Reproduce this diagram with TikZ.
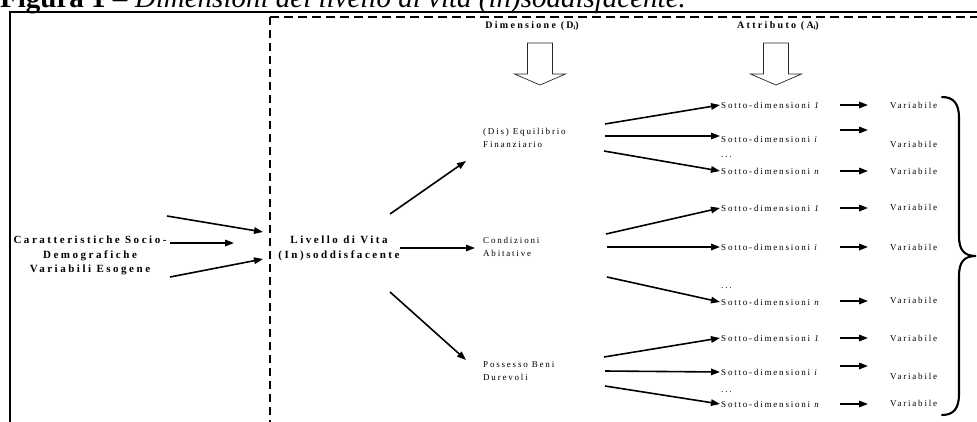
\documentclass[tikz,border=0pt]{standalone}
\usepackage{fontspec}
\setmainfont{Liberation Serif}
\newfontfamily\lsf[LetterSpace=20]{Liberation Serif}
\newfontfamily\lsb[LetterSpace=23]{Liberation Serif}
\usetikzlibrary{arrows.meta}
\begin{document}
\begin{tikzpicture}[x=1pt,y=-1pt,
  arr/.style={line width=1.6pt,-{Triangle[length=9pt,width=6.5pt]}},
  blockarr/.style={line width=0.7pt,draw=black!85,fill=white,line join=miter},
  small/.style={font=\lsf\fontsize{9}{13}\selectfont,inner sep=1pt,anchor=west},
  dimlbl/.style={font=\lsf\fontsize{9}{13.5}\selectfont,inner sep=0pt,anchor=west,align=left},
  boldlbl/.style={font=\lsb\bfseries\fontsize{11}{14.5}\selectfont,inner sep=0pt,align=center},
  headlbl/.style={font=\lsb\bfseries\fontsize{10}{12}\selectfont,inner sep=0pt}]
\useasboundingbox (0,0) rectangle (977,421);
% title (partly cut off at top)
\node[anchor=base west,inner sep=0pt,font=\fontsize{29}{30}\selectfont] (title) at (0,7)
  {\textbf{Figura 1 –} \textit{Dimensioni del livello di vita (in)soddisfacente.}};
% frames
\draw[line width=1.5pt] (10,430) -- (10,12) -- (990,12);
\draw[line width=1.4pt,dash pattern=on 9pt off 5pt] (270,17) -- (990,17);
\draw[line width=2.4pt,dash pattern=on 8pt off 5pt] (270,17) -- (270,430);
% headings
\node[headlbl] (hdim) at (532,26) {Dimensione (D{\fontsize{6}{6}\selectfont\raisebox{-1.5pt}{i}})};
\node[headlbl] (hatt) at (778,26) {Attributo (A{\fontsize{6}{6}\selectfont\raisebox{-1.5pt}{i}})};
% block arrows
\foreach \cx in {540,776}{
  \draw[blockarr] (\cx-12.5,43) -- (\cx+12.5,43) -- (\cx+12.5,74) -- (\cx+25.5,74)
     -- (\cx,85) -- (\cx-25.5,74) -- (\cx-12.5,74) -- cycle;
}
% left texts
\node[boldlbl] (car) at (90,255.5) {Caratteristiche Socio-\\Demografiche\\Variabili Esogene};
\node[boldlbl] (liv) at (339,248.5) {Livello di Vita\\(In)soddisfacente};
\coordinate (c1) at (167,216); \coordinate (c1e) at (263,232);
\coordinate (c2) at (170,243); \coordinate (c2e) at (234,243);
\coordinate (c3) at (170,277); \coordinate (c3e) at (263,259);
\draw[arr] (c1) -- (c1e);
\draw[arr] (c2) -- (c2e);
\draw[arr] (c3) -- (c3e);
% dimensions
\node[dimlbl] (dimF) at (483,138) {(Dis) Equilibrio\\Finanziario};
\node[dimlbl] (dimA) at (483,247) {Condizioni\\Abitative};
\node[dimlbl] (dimB) at (483,371) {Possesso Beni\\Durevoli};
\coordinate (l1) at (390,214); \coordinate (l1e) at (466,161);
\coordinate (l2) at (400,248); \coordinate (l2e) at (475,248);
\coordinate (l3) at (390,292); \coordinate (l3e) at (466,360);
\draw[arr] (l1) -- (l1e);
\draw[arr] (l2) -- (l2e);
\draw[arr] (l3) -- (l3e);
% sotto-dimensioni nodes
\foreach \g/\ya/\yb/\yd/\yc in {1/105/139/157/171, 2/208/247/288/302, 3/338/372/392/404}{
  \node[small] (s\g a) at (720,\ya) {Sotto-dimensioni \textit{1}};
  \node[small] (s\g b) at (720,\yb) {Sotto-dimensioni \textit{i}};
  \node[small] (s\g d) at (720,\yd) {...};
  \node[small] (s\g c) at (720,\yc) {Sotto-dimensioni \textit{n}};
}
% dimension -> sotto arrows
\coordinate (f1) at (605,124); \coordinate (f2) at (605,136); \coordinate (f3) at (604,151);
\coordinate (a1) at (606,234); \coordinate (a2) at (607,247); \coordinate (a3) at (607,277);
\coordinate (b1) at (604,357); \coordinate (b2) at (605,371); \coordinate (b3) at (605,386);
\draw[arr] (f1) -- (s1a.west);
\draw[arr] (f2) -- (s1b.west |- f2);
\draw[arr] (f3) -- (s1c.west);
\draw[arr] (a1) -- (s2a.west);
\draw[arr] (a2) -- (s2b.west);
\draw[arr] (a3) -- (s2c.west);
\draw[arr] (b1) -- (s3a.west);
\draw[arr] (b2) -- (s3b.west);
\draw[arr] (b3) -- (s3c.west);
% variabile nodes
\foreach \n/\y in {1/105,2/144,3/171,4/207,5/247,6/300,7/338,8/376,9/403}{
  \node[small] (v\n) at (889,\y) {Variabile};
}
% sotto -> variabile arrows
\foreach \n/\y in {1/105,2/130,3/171,4/208,5/247,6/301,7/338,8/366,9/404}{
  \coordinate (va\n) at (840,\y); \coordinate (vb\n) at (868,\y);
  \draw[arr] (va\n) -- (vb\n);
}
% brace
\draw[line width=2.1pt,line cap=round] (942,97) .. controls (954,97) and (959,104) .. (959,118)
  -- (959,236) .. controls (959,250) and (964,256) .. (976,256)
  .. controls (964,256) and (959,262) .. (959,276)
  -- (959,394) .. controls (959,408) and (954,415) .. (942,415);
\end{tikzpicture}
\end{document}
